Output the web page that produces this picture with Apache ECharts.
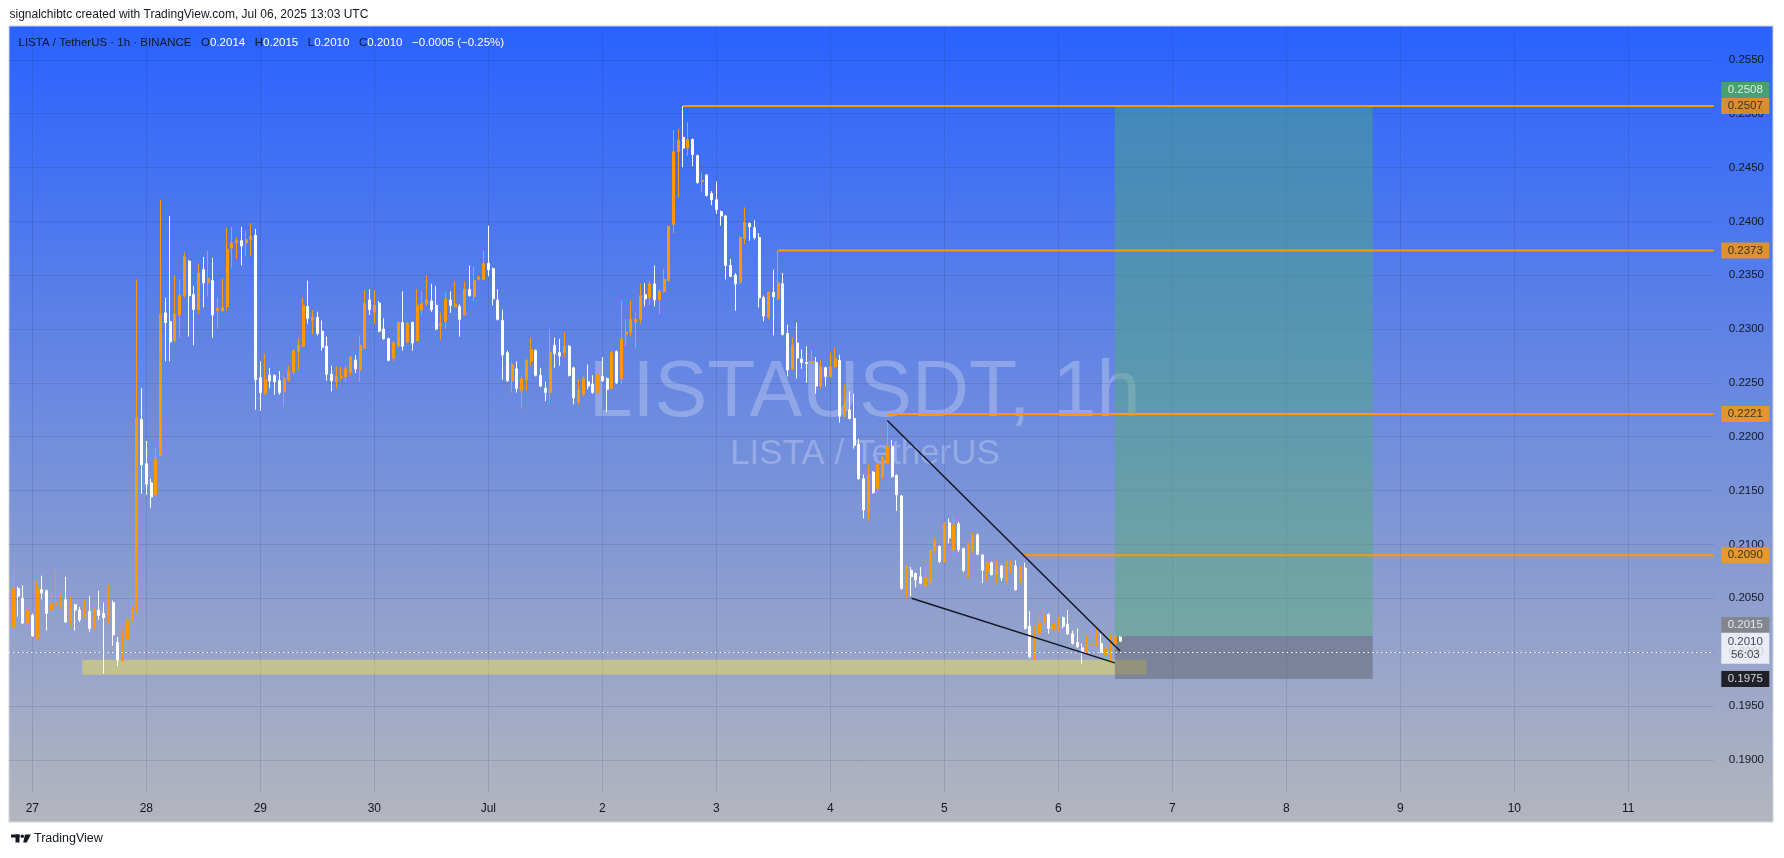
<!DOCTYPE html>
<html>
<head>
<meta charset="utf-8">
<title>LISTAUSDT 1h</title>
<script src="https://cdn.jsdelivr.net/npm/echarts@6.0.0/dist/echarts.min.js"></script>
<style>
html,body{margin:0;padding:0;background:#ffffff;}
#chart{width:1784px;height:858px;}
</style>
</head>
<body>
<div id="chart"></div>
<script>
// ================= DATA =================
const firstSlotUTC = Date.UTC(2025, 5, 26, 19); // first hourly slot on the time axis
const slotCount = 360;                           // hourly slots up to Jul 11
const firstCandleSlot = 1;                       // first candle: Jun 26 20:00 UTC

const opens = [
0.2023,0.2059,0.2050,0.2027,0.2034,0.2013,0.2058,0.2057,0.2039,0.2044,
0.2044,0.2049,0.2028,0.2044,0.2039,0.2033,0.2038,0.2022,0.2039,0.2036,
0.2032,0.2046,0.2009,0.1992,0.2012,0.2029,0.2040,0.2216,0.2175,0.2157,
0.2146,0.2183,0.2315,0.2307,0.2289,0.2313,0.2331,0.2363,0.2332,0.2318,
0.2355,0.2343,0.2345,0.2317,0.2317,0.2321,0.2375,0.2380,0.2382,0.2380,
0.2383,0.2387,0.2255,0.2240,0.2257,0.2257,0.2252,0.2242,0.2253,0.2260,
0.2279,0.2284,0.2321,0.2308,0.2311,0.2298,0.2284,0.2258,0.2251,0.2255,
0.2256,0.2260,0.2271,0.2262,0.2282,0.2327,0.2316,0.2324,0.2300,0.2291,
0.2273,0.2284,0.2306,0.2288,0.2306,0.2289,0.2318,0.2323,0.2326,0.2322,
0.2303,0.2307,0.2327,0.2321,0.2321,0.2313,0.2337,0.2330,0.2346,0.2346,
0.2361,0.2356,0.2327,0.2308,0.2278,0.2252,0.2263,0.2243,0.2253,0.2270,
0.2280,0.2257,0.2245,0.2241,0.2285,0.2278,0.2278,0.2284,0.2264,0.2232,
0.2239,0.2251,0.2249,0.2241,0.2256,0.2254,0.2245,0.2279,0.2254,0.2295,
0.2297,0.2307,0.2309,0.2332,0.2329,0.2342,0.2327,0.2335,0.2345,0.2397,
0.2465,0.2478,0.2468,0.2476,0.2461,0.2437,0.2443,0.2426,0.2420,0.2409,
0.2405,0.2359,0.2350,0.2343,0.2384,0.2398,0.2394,0.2385,0.2329,0.2311,
0.2334,0.2328,0.2342,0.2296,0.2263,0.2287,0.2272,0.2269,0.2269,0.2269,
0.2247,0.2264,0.2256,0.2265,0.2271,0.2219,0.2225,0.2217,0.2193,0.2161,
0.2132,0.2167,0.2152,0.2163,0.2175,0.2191,0.2164,0.2145,0.2059,0.2076,
0.2073,0.2070,0.2062,0.2065,0.2093,0.2098,0.2084,0.2120,0.2095,0.2119,
0.2096,0.2070,0.2093,0.2109,0.2090,0.2075,0.2083,0.2072,0.2080,0.2065,
0.2076,0.2080,0.2065,0.2078,0.2024,0.1993,0.2017,0.2027,0.2035,0.2021,
0.2021,0.2032,0.2026,0.2017,0.2009,0.2004,0.1999,0.2007,0.2007,0.2008,
0.1997,0.2000,0.2008,0.2014];

const highs = [
0.2079,0.2061,0.2062,0.2040,0.2036,0.2066,0.2071,0.2058,0.2056,0.2075,
0.2054,0.2070,0.2052,0.2045,0.2042,0.2048,0.2052,0.2043,0.2057,0.2046,
0.2062,0.2048,0.2014,0.2020,0.2031,0.2046,0.2346,0.2245,0.2196,0.2161,
0.2190,0.2420,0.2329,0.2405,0.2350,0.2346,0.2371,0.2364,0.2340,0.2361,
0.2367,0.2373,0.2366,0.2329,0.2347,0.2394,0.2395,0.2385,0.2395,0.2391,
0.2398,0.2393,0.2270,0.2277,0.2264,0.2258,0.2261,0.2256,0.2266,0.2281,
0.2292,0.2329,0.2345,0.2318,0.2316,0.2308,0.2293,0.2266,0.2265,0.2265,
0.2266,0.2275,0.2276,0.2294,0.2336,0.2337,0.2336,0.2326,0.2310,0.2292,
0.2289,0.2307,0.2335,0.2307,0.2307,0.2337,0.2335,0.2350,0.2342,0.2340,
0.2315,0.2334,0.2335,0.2344,0.2323,0.2344,0.2359,0.2358,0.2350,0.2373,
0.2396,0.2357,0.2337,0.2318,0.2280,0.2270,0.2270,0.2257,0.2272,0.2292,
0.2281,0.2264,0.2251,0.2300,0.2292,0.2291,0.2297,0.2285,0.2265,0.2253,
0.2256,0.2267,0.2257,0.2262,0.2274,0.2255,0.2280,0.2280,0.2326,0.2309,
0.2326,0.2316,0.2342,0.2343,0.2345,0.2359,0.2337,0.2356,0.2396,0.2485,
0.2486,0.2507,0.2492,0.2477,0.2462,0.2445,0.2444,0.2428,0.2437,0.2410,
0.2406,0.2365,0.2352,0.2386,0.2413,0.2399,0.2401,0.2389,0.2331,0.2335,
0.2355,0.2373,0.2352,0.2304,0.2292,0.2306,0.2281,0.2284,0.2281,0.2274,
0.2271,0.2265,0.2278,0.2283,0.2276,0.2248,0.2242,0.2240,0.2198,0.2165,
0.2174,0.2168,0.2182,0.2182,0.2216,0.2197,0.2165,0.2146,0.2081,0.2079,
0.2074,0.2079,0.2080,0.2095,0.2106,0.2099,0.2121,0.2124,0.2127,0.2121,
0.2097,0.2102,0.2111,0.2110,0.2091,0.2084,0.2084,0.2085,0.2081,0.2086,
0.2085,0.2085,0.2080,0.2083,0.2038,0.2024,0.2035,0.2045,0.2036,0.2029,
0.2033,0.2033,0.2039,0.2020,0.2022,0.2008,0.2015,0.2021,0.2024,0.2017,
0.2014,0.2017,0.2017,0.2015];

const lows = [
0.2022,0.2033,0.2026,0.2024,0.2014,0.2012,0.2049,0.2020,0.2033,0.2043,
0.2040,0.2027,0.2024,0.2020,0.2028,0.2032,0.2019,0.2021,0.2030,0.1980,
0.2027,0.2006,0.1987,0.1991,0.2011,0.2028,0.2036,0.2147,0.2146,0.2134,
0.2145,0.2182,0.2270,0.2270,0.2288,0.2292,0.2329,0.2293,0.2285,0.2314,
0.2320,0.2330,0.2292,0.2300,0.2316,0.2317,0.2357,0.2365,0.2359,0.2367,
0.2368,0.2225,0.2224,0.2239,0.2245,0.2239,0.2239,0.2228,0.2251,0.2258,
0.2262,0.2283,0.2305,0.2295,0.2294,0.2280,0.2252,0.2242,0.2245,0.2252,
0.2251,0.2257,0.2259,0.2251,0.2282,0.2313,0.2305,0.2297,0.2290,0.2270,
0.2270,0.2284,0.2280,0.2287,0.2280,0.2289,0.2313,0.2322,0.2316,0.2299,
0.2290,0.2300,0.2315,0.2321,0.2293,0.2313,0.2330,0.2326,0.2345,0.2345,
0.2349,0.2322,0.2308,0.2253,0.2251,0.2241,0.2241,0.2226,0.2243,0.2266,
0.2256,0.2246,0.2233,0.2230,0.2264,0.2266,0.2274,0.2256,0.2230,0.2230,
0.2238,0.2244,0.2240,0.2240,0.2251,0.2223,0.2244,0.2249,0.2249,0.2284,
0.2293,0.2282,0.2305,0.2321,0.2322,0.2321,0.2314,0.2334,0.2344,0.2389,
0.2422,0.2450,0.2461,0.2451,0.2435,0.2427,0.2423,0.2415,0.2407,0.2396,
0.2346,0.2348,0.2317,0.2342,0.2379,0.2382,0.2383,0.2320,0.2307,0.2309,
0.2294,0.2327,0.2294,0.2256,0.2262,0.2254,0.2263,0.2250,0.2268,0.2240,
0.2245,0.2247,0.2255,0.2264,0.2213,0.2218,0.2216,0.2189,0.2160,0.2124,
0.2122,0.2147,0.2148,0.2161,0.2174,0.2162,0.2131,0.2058,0.2050,0.2052,
0.2060,0.2063,0.2060,0.2064,0.2092,0.2083,0.2083,0.2101,0.2089,0.2093,
0.2074,0.2068,0.2092,0.2090,0.2064,0.2067,0.2071,0.2064,0.2066,0.2064,
0.2073,0.2057,0.2064,0.2021,0.1994,0.1992,0.2011,0.2025,0.2017,0.2020,
0.2019,0.2022,0.2016,0.2007,0.2004,0.1989,0.1998,0.2006,0.2005,0.1999,
0.1996,0.1991,0.2003,0.2010];

const closes = [
0.2059,0.2052,0.2027,0.2039,0.2015,0.2059,0.2055,0.2036,0.2045,0.2046,
0.2046,0.2028,0.2042,0.2039,0.2030,0.2039,0.2022,0.2040,0.2034,0.2032,
0.2046,0.2016,0.1993,0.2014,0.2030,0.2042,0.2217,0.2174,0.2156,0.2144,
0.2179,0.2314,0.2306,0.2288,0.2314,0.2331,0.2367,0.2331,0.2318,0.2352,
0.2343,0.2347,0.2313,0.2319,0.2320,0.2374,0.2380,0.2382,0.2377,0.2383,
0.2386,0.2253,0.2241,0.2253,0.2252,0.2251,0.2241,0.2254,0.2261,0.2280,
0.2285,0.2322,0.2310,0.2311,0.2296,0.2283,0.2258,0.2252,0.2256,0.2256,
0.2263,0.2274,0.2263,0.2285,0.2324,0.2318,0.2322,0.2298,0.2291,0.2271,
0.2287,0.2306,0.2284,0.2305,0.2287,0.2322,0.2324,0.2327,0.2318,0.2300,
0.2305,0.2328,0.2322,0.2323,0.2309,0.2337,0.2331,0.2345,0.2348,0.2361,
0.2355,0.2328,0.2309,0.2276,0.2252,0.2267,0.2245,0.2254,0.2271,0.2281,
0.2257,0.2247,0.2241,0.2278,0.2277,0.2275,0.2284,0.2257,0.2236,0.2243,
0.2254,0.2247,0.2241,0.2258,0.2252,0.2244,0.2278,0.2250,0.2291,0.2297,
0.2309,0.2309,0.2331,0.2328,0.2342,0.2327,0.2335,0.2346,0.2395,0.2465,
0.2475,0.2468,0.2476,0.2462,0.2436,0.2438,0.2424,0.2420,0.2411,0.2405,
0.2359,0.2349,0.2342,0.2385,0.2399,0.2395,0.2385,0.2329,0.2312,0.2334,
0.2330,0.2343,0.2295,0.2262,0.2285,0.2273,0.2269,0.2268,0.2270,0.2247,
0.2265,0.2256,0.2265,0.2272,0.2219,0.2225,0.2217,0.2192,0.2161,0.2132,
0.2165,0.2148,0.2174,0.2181,0.2191,0.2163,0.2146,0.2059,0.2079,0.2070,
0.2067,0.2064,0.2069,0.2094,0.2104,0.2084,0.2120,0.2106,0.2118,0.2095,
0.2076,0.2101,0.2109,0.2091,0.2076,0.2083,0.2072,0.2083,0.2069,0.2084,
0.2082,0.2058,0.2079,0.2022,0.1996,0.2019,0.2027,0.2035,0.2022,0.2026,
0.2032,0.2024,0.2017,0.2008,0.2005,0.2000,0.2007,0.2008,0.2015,0.2000,
0.2003,0.2009,0.2014,0.2010];

const lastPrice = 0.2010;
const countdown = '56:03';
const levelPrices = [0.2507, 0.2373, 0.2221, 0.2090];
const levelStartSlots = [142, 162, 185, 213.6];
const upperTrend = [[185, 0.2215], [234, 0.2001]];
const lowerTrend = [[190.1, 0.2050], [232.9, 0.1990]];
const supportSlots = [15.5, 239.6];
const supportPrices = [0.1979, 0.1993];
const positionSlots = [232.9, 287.2];
const positionPrices = { target: 0.2508, entry: 0.2015, stop: 0.1975 };
const tagPrices = [0.2508, 0.2507, 0.2373, 0.2221, 0.2090, 0.2015, 0.2010, 0.1975];
const headerOHLC = { o: '0.2014', h: '0.2015', l: '0.2010', c: '0.2010', chg: '\u22120.0005 (\u22120.25%)' };

// ================= LAYOUT / STYLE =================
const FONT = 'Liberation Sans, Arial, sans-serif';
const UP = '#FF9800', DOWN = '#FFFFFF';
const GRID_LINE = 'rgba(30,35,70,0.13)';
const yMin = 0.186917, yMax = 0.258045;

const categories = [];
for (let i = 0; i < slotCount; i++) {
  categories.push(new Date(firstSlotUTC + i * 3600000).toISOString().slice(0, 13));
}
const isDayStart = (idx, val) => val.slice(11, 13) === '00';
const dayLabel = (val) => {
  const d = +val.slice(8, 10);
  return d === 1 ? 'Jul' : String(d);
};

const candleData = opens.map((o, k) => [k + firstCandleSlot, o, closes[k], lows[k], highs[k]]);

const tagStyles = [
  { bg: '#4CAF50', fg: '#FFFFFF', dy: -15, h: 16 },
  { bg: '#FF9800', fg: '#131722', dy: 0, h: 16 },
  { bg: '#FF9800', fg: '#131722', dy: 0, h: 16 },
  { bg: '#FF9800', fg: '#131722', dy: 0, h: 16 },
  { bg: '#FF9800', fg: '#131722', dy: 0, h: 16 },
  { bg: '#808080', fg: '#FFFFFF', dy: -11, h: 16 },
  { bg: '#FFFFFF', fg: '#131722', dy: 7, h: 31, sub: countdown },
  { bg: '#000000', fg: '#FFFFFF', dy: 0, h: 16 }
];
const lastSlot = slotCount - 1;
const tagData = tagPrices.map((p, k) => {
  const s = tagStyles[k];
  return {
    value: [lastSlot, p],
    symbol: 'rect',
    symbolSize: [48, s.h],
    symbolOffset: [31.5, s.dy],
    itemStyle: { color: s.bg },
    label: {
      show: true, position: 'inside',
      formatter: p.toFixed(4) + (s.sub ? '\n' + s.sub : ''),
      color: s.fg, fontFamily: FONT, fontSize: 11.5, lineHeight: 13
    }
  };
});

const levelSeries = levelPrices.map((p, k) => ({
  type: 'line', xAxisIndex: 1, yAxisIndex: 0, z: 3, silent: true,
  symbol: 'none', animation: false,
  lineStyle: { color: UP, width: 2 },
  data: [[levelStartSlots[k], p], [lastSlot, p]]
}));

const trendSeries = [upperTrend, lowerTrend].map(t => ({
  type: 'line', xAxisIndex: 1, yAxisIndex: 0, z: 5, silent: true,
  symbol: 'none', animation: false,
  lineStyle: { color: '#131722', width: 1.5 },
  data: t
}));

const chart = echarts.init(document.getElementById('chart'), null, { width: 1784, height: 858 });

const option = {
  animation: false,
  backgroundColor: '#FFFFFF',
  grid: { left: 8.55, right: 70.2, top: 27, bottom: 65, containLabel: false, outerBoundsMode: 'none' },
  xAxis: [
    {
      type: 'category', data: categories, boundaryGap: false,
      axisLine: { show: false }, axisTick: { show: false },
      axisLabel: {
        interval: isDayStart, formatter: dayLabel,
        color: '#131722', fontFamily: FONT, fontSize: 12, margin: 10
      },
      splitLine: { show: true, interval: isDayStart, lineStyle: { color: GRID_LINE, width: 1 } }
    },
    { type: 'value', min: 0, max: lastSlot, show: false }
  ],
  yAxis: [{
    type: 'value', position: 'right', min: yMin, max: yMax, splitNumber: 14, scale: true,
    axisLine: { show: false }, axisTick: { show: false },
    axisLabel: {
      color: '#131722', fontFamily: FONT, fontSize: 11.5, margin: 15,
      showMinLabel: false, showMaxLabel: false,
      formatter: v => v.toFixed(4)
    },
    splitLine: { show: true, showMinLine: false, showMaxLine: false, lineStyle: { color: GRID_LINE, width: 1 } }
  }],
  graphic: [
    { type: 'rect', z: -100, silent: true, shape: { x: 9, y: 26, width: 1764, height: 796 },
      style: {
        fill: new echarts.graphic.LinearGradient(0, 0, 0, 1, [
          { offset: 0, color: '#2962FF' }, { offset: 1, color: '#B4B6BD' }
        ]),
        stroke: '#D1D4DC', lineWidth: 1
      } },
    { type: 'text', z: -50, silent: true, x: 864.5, y: 394,
      style: { text: 'LISTAUSDT, 1h', fill: 'rgba(255,255,255,0.25)', font: '79px ' + FONT, textAlign: 'center', textVerticalAlign: 'middle' } },
    { type: 'text', z: -50, silent: true, x: 865, y: 454,
      style: { text: 'LISTA / TetherUS', fill: 'rgba(255,255,255,0.25)', font: '35px ' + FONT, textAlign: 'center', textVerticalAlign: 'middle' } },
    { type: 'text', z: 10, silent: true, x: 9.5, y: 15,
      style: { text: 'signalchibtc created with TradingView.com, Jul 06, 2025 13:03 UTC', fill: '#131722', font: '12px ' + FONT, textVerticalAlign: 'middle' } },
    { type: 'text', z: 10, silent: true, x: 18.5, y: 42.5,
      style: {
        text: '{k|LISTA / TetherUS \u00b7 1h \u00b7 BINANCE}   {k|O}{v|' + headerOHLC.o + '}   {k|H}{v|' + headerOHLC.h +
              '}   {k|L}{v|' + headerOHLC.l + '}   {k|C}{v|' + headerOHLC.c + '}   {v|' + headerOHLC.chg + '}',
        textVerticalAlign: 'middle',
        rich: {
          k: { fill: '#131722', font: '11.5px ' + FONT },
          v: { fill: '#FFFFFF', font: '11.5px ' + FONT }
        },
        font: '11.5px ' + FONT
      } },
    // TradingView logo mark
    { type: 'rect', silent: true, shape: { x: 11, y: 834.5, width: 8.5, height: 3 }, style: { fill: '#131722' } },
    { type: 'rect', silent: true, shape: { x: 15.5, y: 834.5, width: 4, height: 8 }, style: { fill: '#131722' } },
    { type: 'circle', silent: true, shape: { cx: 22.3, cy: 836.2, r: 1.7 }, style: { fill: '#131722' } },
    { type: 'polygon', silent: true, shape: { points: [[25, 834.5], [30.8, 834.5], [26.8, 842.5], [23.2, 842.5]] }, style: { fill: '#131722' } },
    { type: 'text', silent: true, x: 34, y: 838.5,
      style: { text: 'TradingView', fill: '#131722', font: '12.5px ' + FONT, textVerticalAlign: 'middle' } }
  ],
  series: [
    {
      type: 'line', xAxisIndex: 1, yAxisIndex: 0, z: 1, silent: true, symbol: 'none', data: [],
      markArea: {
        silent: true,
        label: { show: false },
        data: [
          [{ coord: [supportSlots[0], supportPrices[1]], itemStyle: { color: 'rgba(255,235,59,0.40)' } },
           { coord: [supportSlots[1], supportPrices[0]] }],
          [{ coord: [positionSlots[0], positionPrices.target], itemStyle: { color: 'rgba(80,172,112,0.45)' } },
           { coord: [positionSlots[1], positionPrices.entry] }],
          [{ coord: [positionSlots[0], positionPrices.entry], itemStyle: { color: 'rgba(88,90,100,0.45)' } },
           { coord: [positionSlots[1], positionPrices.stop] }]
        ]
      }
    },
    {
      type: 'candlestick', xAxisIndex: 0, yAxisIndex: 0, z: 4,
      barWidth: 2.5,
      encode: { x: 0, y: [1, 2, 3, 4] },
      data: candleData,
      itemStyle: { color: UP, color0: DOWN, borderColor: UP, borderColor0: DOWN, borderWidth: 1 },
      markLine: {
        silent: true, symbol: 'none', animation: false,
        label: { show: false },
        lineStyle: { color: '#FFFFFF', type: [1.5, 3], width: 1 },
        data: [{ yAxis: lastPrice }]
      }
    },
    ...levelSeries,
    ...trendSeries,
    {
      type: 'scatter', xAxisIndex: 1, yAxisIndex: 0, z: 10, clip: false, silent: true,
      data: tagData
    }
  ]
};
chart.setOption(option);
</script>
</body>
</html>
